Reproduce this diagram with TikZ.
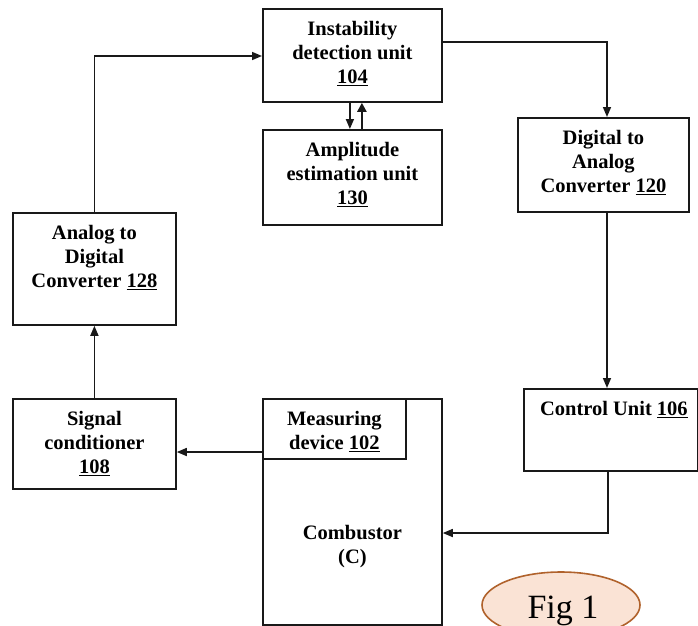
\documentclass[tikz,border=0pt]{standalone}
\usepackage{fontspec}
\setmainfont{Liberation Serif}
\usetikzlibrary{arrows.meta,calc,shapes.geometric}
\definecolor{figfill}{HTML}{FAE3D5}
\definecolor{figdraw}{HTML}{B0622C}
\begin{document}
\begin{tikzpicture}[x=1pt,y=-1pt,
  box/.style={draw=black!90, line width=1.8pt, fill=white, inner sep=0pt, anchor=north west},
  lbl/.style={font=\fontsize{20.5}{24}\bfseries\selectfont, align=center, inner sep=0pt, anchor=north},
  arr/.style={draw=black!90, line width=1.6pt, -{Triangle[length=10pt,width=8pt]}},
  thickarr/.style={draw=black!90, line width=2.6pt, -{Triangle[length=9pt,width=9pt]}}]
\useasboundingbox (0,0) rectangle (698,625);
% boxes
\node[box, minimum width=179pt, minimum height=93pt] (idu) at (262,8) {};
\node[box, minimum width=179pt, minimum height=95pt] (amp) at (262,129) {};
\node[box, minimum width=171pt, minimum height=94pt] (dac) at (517,117) {};
\node[box, minimum width=163pt, minimum height=112pt] (adc) at (12,212) {};
\node[box, minimum width=163pt, minimum height=90pt] (sc) at (12,398) {};
\node[box, minimum width=174pt, minimum height=82pt] (cu) at (523,388) {};
\node[box, minimum width=179pt, minimum height=226pt] (comb) at (262,398) {};
\node[box, minimum width=143pt, minimum height=60pt] (md) at (262,398) {};
% labels
\node[lbl] at ($(idu.north)+(0,13.5)$) {Instability\\detection unit\\\underline{104}};
\node[lbl] at ($(amp.north)+(0,13.5)$) {Amplitude\\estimation unit\\\underline{130}};
\node[lbl] at ($(dac.north)+(0,13.5)$) {Digital to\\Analog\\Converter \underline{120}};
\node[lbl] at ($(adc.north)+(0,13.5)$) {Analog to\\Digital\\Converter \underline{128}};
\node[lbl] at ($(sc.north)+(0,13.5)$) {Signal\\conditioner\\\underline{108}};
\node[lbl] at ($(cu.north)+(3,13.5)$) {Control Unit \underline{106}};
\node[lbl] at ($(md.north)+(0,13.5)$) {Measuring\\device \underline{102}};
\node[lbl] at ($(comb.north)+(0,127.5)$) {Combustor\\(C)};
% connectors
\draw[arr] ($(idu.north east)+(0,34)$) -| ($(dac.north west)+(90,0)$);
\draw[arr] ($(dac.south west)+(90,0)$) -- ($(cu.north west)+(84,0)$);
\draw[arr] ($(cu.south west)+(85,0)$) |- ($(comb.north east)+(0,135)$);
\draw[arr] ($(md.north west)+(0,54)$) -- ($(sc.north east)+(0,54)$);
\draw[arr] (sc.north) -- (adc.south);
\draw[arr] (adc.north) |- ($(idu.north west)+(0,48)$);
\draw[arr] ($(idu.south)+(-2.5,0)$) -- ($(amp.north)+(-2.5,0)$);
\draw[thickarr] ($(amp.north)+(9.5,0)$) -- ($(idu.south)+(9.5,0)$);
% figure label
\node[draw=figdraw, fill=figfill, line width=1.6pt, ellipse, minimum width=158pt, minimum height=66pt, inner sep=0pt] (fig) at (561,605) {};
\node[font=\fontsize{34}{36}\selectfont, anchor=base, inner sep=0pt] at ($(fig.center)+(2,13)$) {Fig 1};
\end{tikzpicture}
\end{document}
